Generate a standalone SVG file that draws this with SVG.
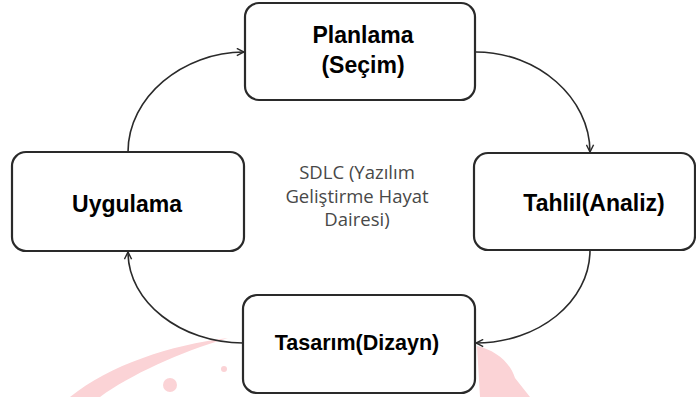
<svg xmlns="http://www.w3.org/2000/svg" width="696" height="397" viewBox="0 0 696 397">
<defs>
<style>
.box{fill:#fff;stroke:#2a2a2a;stroke-width:2.2}
.lbl{font-family:"Liberation Sans",Arial,sans-serif;font-weight:bold;fill:#000;text-anchor:middle}
.ctr{font-family:"Open Sans","Noto Sans",sans-serif;fill:#484848;text-anchor:middle;font-size:18.5px}
.con{fill:none;stroke:#2a2a2a;stroke-width:1.6;marker-end:url(#arr)}
.wm{fill:#fbd3d6}
</style>
<marker id="arr" viewBox="0 0 10 10" refX="9" refY="5" markerWidth="9" markerHeight="9" markerUnits="userSpaceOnUse" orient="auto">
<path d="M1,1 L9,5 L1,9" fill="none" stroke="#2a2a2a" stroke-width="1.6"/>
</marker>
</defs>
<rect width="696" height="397" fill="#fff"/>
<g id="watermark">
<path class="wm" d="M70,397 C110,365 170,345 228,338 C180,352 130,375 100,397 Z"/>
<circle class="wm" cx="170" cy="385" r="7"/>
<circle class="wm" cx="224" cy="369" r="3"/>
<path class="wm" d="M477,346 C495,350 510,362 515,378 L530,397 L480,397 Z"/>
</g>
<g id="connectors">
<path class="con" d="M128,152 C128,97 183,52 244,52"/>
<path class="con" d="M476,52 C538,52 590,98 590,152"/>
<path class="con" d="M590,250 C590,302 538,343 476,343"/>
<path class="con" d="M243,343 C181,343 128,302 128,252"/>
</g>
<g id="planlama">
<rect class="box" x="245" y="3" width="230" height="97" rx="14"/>
<text class="lbl" x="363" y="43" font-size="23">Planlama</text>
<text class="lbl" x="363" y="73" font-size="23">(Seçim)</text>
</g>
<g id="tahlil">
<rect class="box" x="474" y="153" width="221" height="97" rx="14"/>
<text class="lbl" x="594" y="211" font-size="23">Tahlil(Analiz)</text>
</g>
<g id="uygulama">
<rect class="box" x="12" y="152" width="232" height="99" rx="14"/>
<text class="lbl" x="127" y="212" font-size="23">Uygulama</text>
</g>
<g id="tasarim">
<rect class="box" x="243" y="295" width="232" height="98" rx="14"/>
<text class="lbl" x="357" y="350" font-size="21.5">Tasarım(Dizayn)</text>
</g>
<g id="center">
<text class="ctr" x="357" y="179">SDLC (Yazılım</text>
<text class="ctr" x="357" y="203">Geliştirme Hayat</text>
<text class="ctr" x="357" y="226">Dairesi)</text>
</g>
</svg>
